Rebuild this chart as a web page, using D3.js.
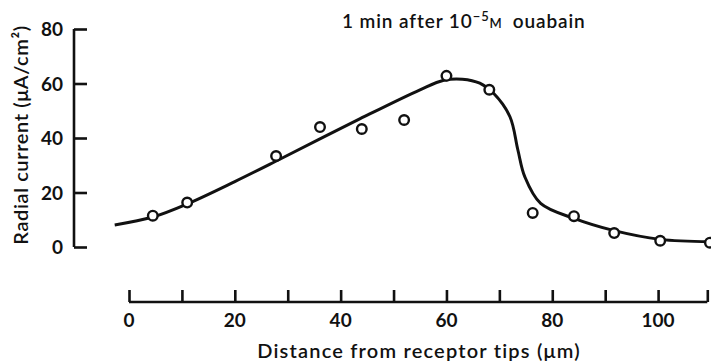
<!DOCTYPE html>
<html>
<head>
<meta charset="utf-8">
<script src="https://cdn.jsdelivr.net/npm/d3@7"></script>
<style>
  body { margin: 0; background: #fff; }
  text { font-family: Lato, "Open Sans", sans-serif; font-weight: 600; fill: #111; }
</style>
</head>
<body>
<svg id="chart" width="711" height="363"></svg>
<script>
// measured points (distance um, current uA/cm2)
var pointX = [4.5, 11.0, 27.8, 36.1, 44.0, 52.0, 60.0, 68.1, 76.3, 84.1, 91.7, 100.4, 109.8];
var pointY = [11.5, 16.3, 33.4, 44.0, 43.3, 46.6, 62.8, 57.7, 12.5, 11.3, 5.1, 2.3, 1.6];

// hand drawn fitted curve
var curveX = [-2.7, 4.5, 11, 20, 28.6, 43.7, 55, 59.5, 63, 66.3, 68.9, 72, 73.5, 74.8, 77.8, 84.1, 91.7, 100.4, 109.8];
var curveY = [8.1, 11.0, 15.8, 24.0, 32.3, 47.1, 57.7, 61.2, 61.6, 60.1, 56.4, 47.8, 35.6, 25.8, 16, 10.5, 6.0, 2.8, 1.9];

var xTicks = [0, 10, 20, 30, 40, 50, 60, 70, 80, 90, 100, 109.3];
var xTickLabels = [0, 20, 40, 60, 80, 100];
var yTicks = [0, 20, 40, 60, 80];

var svg = d3.select('#chart');

var xScale = d3.scaleLinear().domain([0, 110]).range([129, 711]);
var yScale = d3.scaleLinear().domain([0, 80]).range([247, 29]);

// y axis: ticks point inward (right)
var yAxis = d3.axisRight(yScale).tickValues(yTicks).tickSize(13).tickFormat('');
var gy = svg.append('g').attr('transform', 'translate(74,0)').call(yAxis);
gy.select('.domain').attr('d', 'M0,' + yScale(80) + 'V' + yScale(0));
gy.selectAll('path, line').attr('stroke', '#111').attr('stroke-width', 2.6);

svg.append('g').selectAll('text').data(yTicks).enter().append('text')
    .attr('x', 63).attr('y', function(d){ return yScale(d) + 7; })
    .attr('text-anchor', 'end').style('font-size', '19px').style('font-weight', 700)
    .text(function(d){ return d; });

// x axis: ticks point up
var axisY = 302;
var xAxis = d3.axisTop(xScale).tickValues(xTicks).tickSize(12).tickFormat('');
var gx = svg.append('g').attr('transform', 'translate(0,' + axisY + ')').call(xAxis);
gx.select('.domain').attr('d', 'M' + xScale(0) + ',0H' + xScale(109.3));
gx.selectAll('path, line').attr('stroke', '#111').attr('stroke-width', 2.6);

svg.append('g').selectAll('text').data(xTickLabels).enter().append('text')
    .attr('x', function(d){ return xScale(d); }).attr('y', 327)
    .attr('text-anchor', 'middle').style('font-size', '19px').style('font-weight', 700)
    .text(function(d){ return d; });

// curve
var lineData = curveX.map(function(x, i){ return {x: x, y: curveY[i]}; });
var lineFunc = d3.line()
    .x(function(d){ return xScale(d.x); })
    .y(function(d){ return yScale(d.y); })
    .curve(d3.curveCatmullRom.alpha(0.5));
svg.append('path')
    .attr('d', lineFunc(lineData))
    .attr('fill', 'none').attr('stroke', '#111').attr('stroke-width', 3);

// points
var pts = pointX.map(function(x, i){ return {x: x, y: pointY[i]}; });
svg.append('g').selectAll('circle').data(pts).enter().append('circle')
    .attr('cx', function(d){ return xScale(d.x); })
    .attr('cy', function(d){ return yScale(d.y); })
    .attr('r', 4.8)
    .attr('fill', '#fff').attr('stroke', '#111').attr('stroke-width', 2.4);

// axis titles
svg.append('text')
    .attr('x', 419).attr('y', 358).attr('text-anchor', 'middle')
    .style('font-size', '20px').style('letter-spacing', '1.2px')
    .text('Distance from receptor tips (\u03bcm)');

svg.append('text')
    .attr('transform', 'translate(28,135) rotate(-90)')
    .attr('text-anchor', 'middle').style('font-size', '20px').style('letter-spacing', '0.6px')
    .text('Radial current (\u03bcA/cm\u00b2)');

// title
var title = svg.append('text').attr('x', 342).attr('y', 28)
    .style('font-size', '19px').style('letter-spacing', '0.9px');
title.append('tspan').text('1 min after 10');
title.append('tspan').attr('dy', -7).style('font-size', '13px').text('\u22125');
title.append('tspan').attr('dy', 7).style('font-size', '13px').text('M');
title.append('tspan').attr('dx', 10).text('ouabain');
</script>
</body>
</html>
